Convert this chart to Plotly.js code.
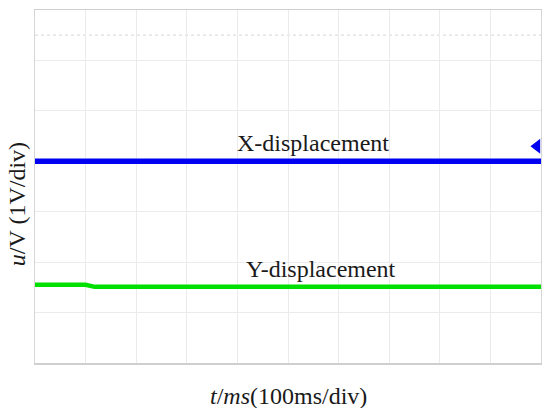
<!DOCTYPE html>
<html>
<head>
<meta charset="utf-8">
<script src="https://cdn.plot.ly/plotly-3.0.1.min.js"></script>
<style>html,body{margin:0;padding:0;background:#fff;}#chart{width:550px;height:408px;}</style>
</head>
<body>
<div id="chart"></div>
<script>
// time in ms (100 ms/div), voltage in divisions (1 V/div)
const xTime = [0, 1000];
const xDisp = [4.0, 4.0];
const yTime = [0, 100, 118, 1000];
const yDisp = [1.55, 1.55, 1.51, 1.51];
const markerTime = [992];
const markerLevel = [4.3];
const labels = ["X-displacement", "Y-displacement"];
const labelTime = [549, 565];
const labelLevel = [4.37, 1.87];
const dottedLevel = 6.5;

const serif = "Liberation Serif, Times New Roman, serif";

const traces = [
  {x: xTime, y: xDisp, mode: "lines", line: {color: "#0000f0", width: 5.5}, hoverinfo: "skip"},
  {x: yTime, y: yDisp, mode: "lines", line: {color: "#00e000", width: 4.5}, hoverinfo: "skip"},
  {x: markerTime, y: markerLevel, mode: "markers", cliponaxis: false,
   marker: {symbol: "triangle-left", color: "#0000f0", size: 13}, hoverinfo: "skip"}
];

const annotations = labels.map((t, i) => ({
  x: labelTime[i], y: labelLevel[i], xref: "x", yref: "y", text: t, showarrow: false,
  font: {family: serif, size: 24, color: "#1a1a1a"}
}));
annotations.push({
  x: 0.5, y: -0.05, xref: "paper", yref: "paper", xanchor: "center", yanchor: "top",
  text: "<i>t</i>/<i>ms</i>(100ms/div)", showarrow: false,
  font: {family: serif, size: 24, color: "#1a1a1a"}
});
annotations.push({
  x: 0, xshift: -18, y: 0.45, xref: "paper", yref: "paper", xanchor: "center", yanchor: "middle",
  text: "<i>u</i>/V (1V/div)", textangle: -90, showarrow: false,
  font: {family: serif, size: 24, color: "#1a1a1a"}
});

const layout = {
  width: 550, height: 408,
  margin: {l: 35, r: 9, t: 10, b: 45},
  paper_bgcolor: "#fff", plot_bgcolor: "#fff",
  showlegend: false,
  xaxis: {range: [0, 1000], dtick: 100, tick0: 0, showticklabels: false, ticks: "",
          showgrid: true, gridcolor: "#ebebeb", gridwidth: 1, zeroline: false,
          showline: true, mirror: true, linecolor: "#cfcfcf", linewidth: 1.5, fixedrange: true},
  yaxis: {range: [0, 7], dtick: 1, tick0: 0, showticklabels: false, ticks: "",
          showgrid: true, gridcolor: "#ebebeb", gridwidth: 1, zeroline: false,
          showline: true, mirror: true, linecolor: "#d6d6d6", linewidth: 1, fixedrange: true},
  shapes: [{type: "line", xref: "paper", yref: "y", x0: 0, x1: 1, y0: dottedLevel, y1: dottedLevel,
            line: {color: "#dddddd", width: 1.2, dash: "dot"}, layer: "below"}],
  annotations: annotations
};

Plotly.newPlot("chart", traces, layout, {staticPlot: true, displayModeBar: false});
</script>
</body>
</html>
